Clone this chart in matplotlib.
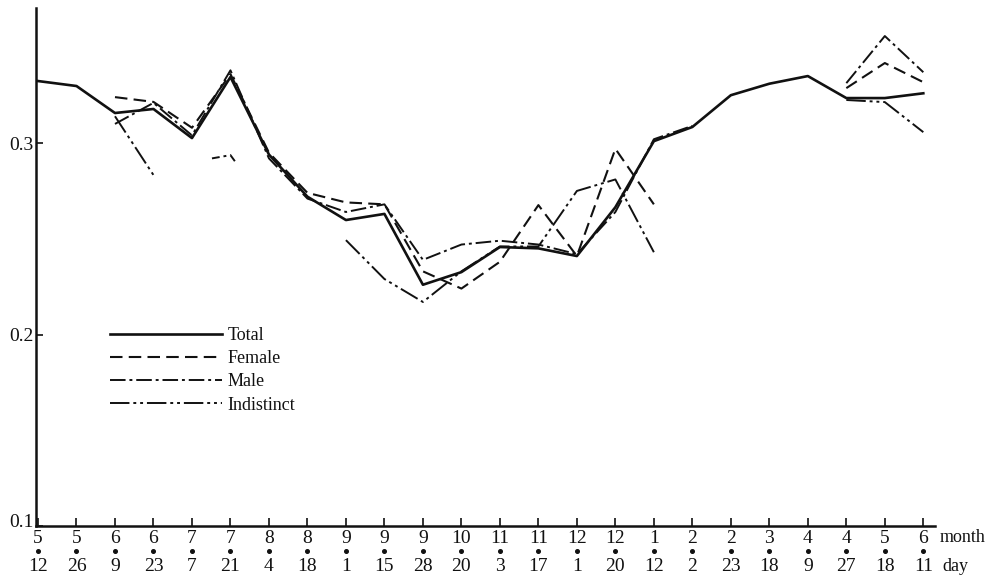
import numpy as np
import matplotlib
matplotlib.use("Agg")
import matplotlib.pyplot as plt
import matplotlib.transforms as mtransforms

plt.rcParams['font.family'] = ['Liberation Serif', 'DejaVu Serif']

nan = np.nan

# survey dates (month / day)
months = ['5', '5', '6', '6', '7', '7', '8', '8', '9', '9', '9', '10',
          '11', '11', '12', '12', '1', '2', '2', '3', '4', '4', '5', '6']
days = ['12', '26', '9', '23', '7', '21', '4', '18', '1', '15', '28', '20',
        '3', '17', '1', '20', '12', '2', '23', '18', '9', '27', '18', '11']

total = [0.3324, 0.3298, 0.3157, 0.3178, 0.3026, 0.3345, 0.2940, 0.2720,
         0.2598, 0.2630, 0.2260, 0.2326, 0.2457, 0.2450, 0.2410, 0.2665,
         0.3010, 0.3084, 0.3250, 0.3310, 0.3350, 0.3235, 0.3235, 0.3260]
female = [nan, nan, 0.3240, 0.3215, 0.3080, 0.3360, 0.2950, 0.2740,
          0.2690, 0.2680, 0.2330, 0.2240, 0.2380, 0.2676, 0.2410, 0.2970,
          0.2680, nan, nan, nan, nan, 0.3287, 0.3418, 0.3318]
male = [nan, nan, 0.3100, 0.3210, 0.3040, 0.3380, 0.2920, 0.2710,
        0.2640, 0.2680, 0.2390, 0.2470, 0.2490, 0.2470, 0.2420, 0.2640,
        0.3020, 0.3090, nan, nan, nan, 0.3313, 0.3559, 0.3370]
indistinct = [nan, nan, 0.3140, 0.2833, nan, nan, nan, nan,
              0.2493, 0.2290, 0.2170, 0.2330, 0.2460, 0.2460, 0.2750, 0.2810,
              0.2430, nan, nan, nan, nan, 0.3225, 0.3214, 0.3057]
# short broken piece of the indistinct curve around 7/21
ind_piece_x = [4.52, 5.0, 5.17]
ind_piece_y = [0.2920, 0.2937, 0.2890]

x = np.arange(len(months))
ink = '#111111'

fig = plt.figure(figsize=(10.02, 5.78), dpi=100)
ax = fig.add_axes([0.036, 0.090, 0.897, 0.896])

ax.plot(x, total, color=ink, lw=1.9, ls='-', label='Total')
ax.plot(x, female, color=ink, lw=1.5, ls=(0, (6, 3)), label='Female')
ax.plot(x, male, color=ink, lw=1.4, ls=(0, (8, 2, 1.5, 2)), label='Male')
ax.plot(x, indistinct, color=ink, lw=1.4, ls=(0, (10, 2, 1.5, 2, 1.5, 2)),
        label='Indistinct')
ax.plot(ind_piece_x, ind_piece_y, color=ink, lw=1.4,
        ls=(0, (4, 2, 1.5, 2)))

ax.set_xlim(-0.05, 23.3)
ax.set_ylim(0.1, 0.3705)

for s in ['top', 'right']:
    ax.spines[s].set_visible(False)
for s in ['left', 'bottom']:
    ax.spines[s].set_linewidth(1.8)
    ax.spines[s].set_color(ink)

ax.set_yticks([0.1, 0.2, 0.3])
ax.set_yticklabels(['0.1', '0.2', '0.3'])
ax.tick_params(axis='y', direction='in', length=5, width=1.2, pad=2,
               labelsize=14, colors=ink)
# lift the lowest y label a little off the x axis
lab01 = ax.get_yticklabels()[0]
lab01.set_transform(lab01.get_transform() +
                    mtransforms.ScaledTranslation(0, 5 / 100, fig.dpi_scale_trans))

ax.set_xticks(x)
ax.set_xticklabels(months)
ax.tick_params(axis='x', direction='in', length=6, width=1.2, pad=3,
               labelsize=14, colors=ink)

# separator dots between month and day rows
sep = mtransforms.blended_transform_factory(ax.transData, ax.transAxes)
ax.plot(x, np.full(len(x), -0.048), transform=sep, ls='', marker='o',
        ms=2.6, color=ink, clip_on=False)

for i, d in enumerate(days):
    ax.annotate(d, xy=(i, 0), xycoords=('data', 'axes fraction'),
                xytext=(0, -29.5), textcoords='offset points',
                ha='center', va='center', fontsize=14, color=ink)

ax.annotate('month', xy=(23, 0), xycoords=('data', 'axes fraction'),
            xytext=(12, -8), textcoords='offset points',
            ha='left', va='center', fontsize=13, color=ink)
ax.annotate('day', xy=(23, 0), xycoords=('data', 'axes fraction'),
            xytext=(14, -29.5), textcoords='offset points',
            ha='left', va='center', fontsize=13, color=ink)

leg = ax.legend(loc='upper left', bbox_to_anchor=(0.1098, 0.434),
                bbox_transform=fig.transFigure, frameon=False, fontsize=13,
                handlelength=6.2, handletextpad=0.3, labelspacing=0.34,
                borderpad=0, borderaxespad=0)
for t in leg.get_texts():
    t.set_color(ink)

fig.savefig('out.png', dpi=100)
